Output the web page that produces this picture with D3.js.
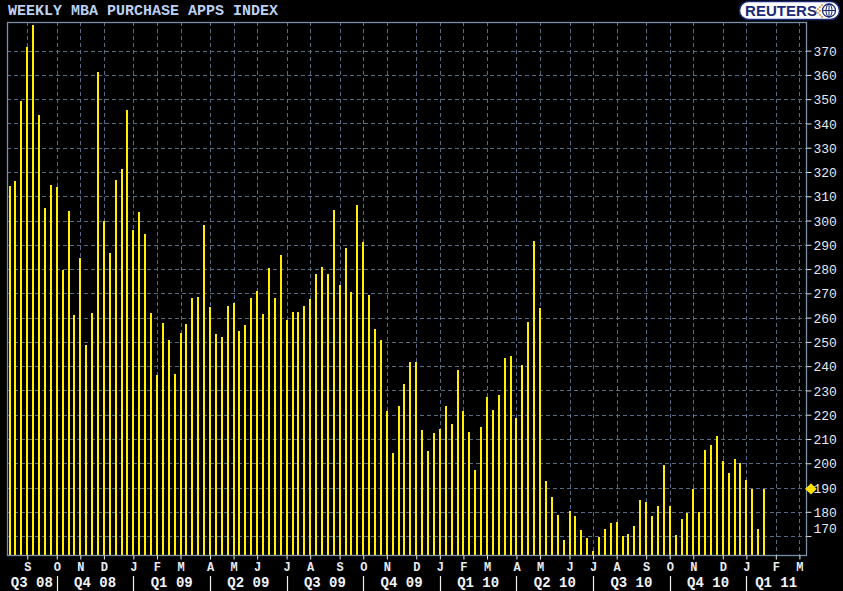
<!DOCTYPE html>
<html><head><meta charset="utf-8">
<script src="https://cdn.jsdelivr.net/npm/d3@7/dist/d3.min.js"></script>
<style>html,body{margin:0;padding:0;background:#000;overflow:hidden}</style>
</head><body>
<svg id="chart" width="843" height="591"></svg>
<script>
const title = "WEEKLY MBA PURCHASE APPS INDEX";
const firstWeek = [2008, 7, 11];   // Monday 11 Aug 2008 (first weekly bar)
const values = [
  314.2, 316.3, 349.3, 371.5, 380.6, 343.5, 305.2, 314.6, 313.8, 279.6,
  304.0, 261.1, 284.7, 248.7, 261.9, 361.2, 299.9, 286.6, 316.7, 321.2,
  345.5, 296.1, 303.5, 294.5, 261.9, 236.4, 257.8, 250.6, 236.8, 253.7,
  257.4, 268.1, 268.5, 298.2, 264.4, 253.2, 252.0, 264.8, 266.0, 254.5,
  257.0, 268.1, 271.0, 261.5, 280.4, 268.1, 285.8, 259.0, 262.3, 262.3,
  264.8, 267.7, 278.0, 280.9, 278.0, 304.3, 273.4, 288.7, 270.6, 306.4,
  291.2, 269.3, 255.3, 250.8, 221.5, 204.1, 223.6, 232.6, 241.7, 241.7,
  213.7, 205.0, 212.4, 214.1, 223.6, 216.2, 238.4, 221.5, 212.9, 197.2,
  214.9, 227.3, 221.9, 228.1, 243.4, 244.2, 218.6, 240.5, 258.2, 291.6,
  264.0, 192.7, 186.1, 178.7, 168.4, 180.3, 178.2, 172.5, 169.2, 164.0,
  169.6, 172.9, 175.4, 175.8, 170.0, 170.8, 174.1, 184.8, 184.0, 178.2,
  182.4, 199.3, 182.4, 170.4, 177.0, 179.5, 189.4, 179.9, 205.4, 207.5,
  211.2, 200.9, 196.0, 201.7, 200.1, 193.1, 189.4, 172.9, 189.4
];
const yTicks = [170,180,190,200,210,220,230,240,250,260,270,280,290,300,310,320,330,340,350,360,370];
const monthLetters = ["S","O","N","D","J","F","M","A","M","J","J","A","S","O","N","D",
                      "J","F","M","A","M","J","J","A","S","O","N","D","J","F","M"];
const quarterLabels = ["Q3 08","Q4 08","Q1 09","Q2 09","Q3 09","Q4 09","Q1 10","Q2 10","Q3 10","Q4 10","Q1 11"];
const axisMonths = [[2008, 8], [2011, 2]]; // Sep 2008 .. Mar 2011

const W = 843, H = 591;
const frame = {l: 7, t: 22, r: 806, b: 555};
const svg = d3.select("#chart");
svg.append("rect").attr("width", W).attr("height", H).attr("fill", "#000");

const x = d3.scaleLinear().domain([-0.44, 135.12]).range([frame.l, frame.r]);
const y = d3.scaleLinear().domain([162.2, 381.8]).range([frame.b, frame.t]);

const start = new Date(firstWeek[0], firstWeek[1], firstWeek[2]);
const months = d3.timeMonth.range(new Date(axisMonths[0][0], axisMonths[0][1], 1),
                                  new Date(axisMonths[1][0], axisMonths[1][1], 2));
const monthTicks = months.map((m, k) => {
  const mon = d3.timeMonday.ceil(m);
  return {date: m, idx: d3.timeMonday.count(start, mon), label: monthLetters[k]};
});

const gridCol = "#566b84";
// horizontal grid
svg.append("g").selectAll("line").data(yTicks).join("line")
  .attr("x1", frame.l).attr("x2", frame.r)
  .attr("y1", d => Math.round(y(d)) + 0.5).attr("y2", d => Math.round(y(d)) + 0.5)
  .attr("stroke", gridCol).attr("stroke-width", 1).attr("stroke-dasharray", "4,3");
// vertical grid
svg.append("g").selectAll("line").data(monthTicks).join("line")
  .attr("x1", d => Math.round(x(d.idx)) + 0.5).attr("x2", d => Math.round(x(d.idx)) + 0.5)
  .attr("y1", frame.t).attr("y2", frame.b)
  .attr("stroke", gridCol).attr("stroke-width", 1).attr("stroke-dasharray", "4,3");

// bars
svg.append("g").attr("shape-rendering", "crispEdges").selectAll("rect").data(values).join("rect")
  .attr("x", (d, i) => Math.round(x(i) - 1)).attr("width", 2)
  .attr("y", d => Math.round(y(d))).attr("height", d => frame.b - Math.round(y(d)))
  .attr("fill", "#ffee00");

// frame
svg.append("rect").attr("x", frame.l + 0.5).attr("y", frame.t + 0.5)
  .attr("width", frame.r - frame.l).attr("height", frame.b - frame.t)
  .attr("fill", "none").attr("stroke", "#7a8ea6").attr("stroke-width", 1.3);

// right axis
const yAxis = d3.axisRight(y).tickValues(yTicks).tickSize(5).tickPadding(2).tickFormat(d3.format("d"));
const ya = svg.append("g").attr("transform", `translate(${frame.r + 0.5},0)`).call(yAxis);
ya.select(".domain").remove();
ya.selectAll(".tick line").attr("stroke", "#d8dde6");
ya.selectAll(".tick text").attr("fill", "#e6e9ee")
  .attr("font-family", "'Liberation Mono', monospace").attr("font-size", 13)
  .attr("dy", d => d === 170 ? "-0.3em" : "0.35em");

// last value marker
const lastV = values[values.length - 1];
svg.append("path")
  .attr("d", d3.symbol(d3.symbolDiamond, 45)())
  .attr("transform", `translate(${frame.r + 5},${y(lastV)}) scale(1.6,0.9)`)
  .attr("fill", "#ffe000");

// bottom axis: month ticks
const xAxis = d3.axisBottom(x).tickValues(monthTicks.map(d => d.idx)).tickSize(4).tickPadding(3)
  .tickFormat((d, k) => monthTicks[k].label);
const xa = svg.append("g").attr("transform", `translate(0,${frame.b + 0.5})`).call(xAxis);
xa.select(".domain").remove();
xa.selectAll(".tick line").attr("stroke", "#e8ecf2");
xa.selectAll(".tick text").attr("fill", "#e8ecf4")
  .attr("font-family", "'Liberation Mono', monospace").attr("font-size", 12).attr("font-weight", "bold");

// quarters
const qBounds = [frame.l]
  .concat(monthTicks.filter(d => d.date.getMonth() % 3 === 0).map(d => x(d.idx)))
  .concat([frame.r]);
const inner = qBounds.slice(1, -1);
svg.append("g").selectAll("line").data(inner).join("line")
  .attr("x1", d => Math.round(d) + 0.5).attr("x2", d => Math.round(d) + 0.5)
  .attr("y1", 576).attr("y2", 591).attr("stroke", "#f0f0f0").attr("stroke-width", 1.2);
svg.append("g").selectAll("text").data(quarterLabels).join("text")
  .attr("x", (d, k) => (qBounds[k] + qBounds[k + 1]) / 2).attr("y", 587)
  .attr("text-anchor", "middle").attr("fill", "#f2f4f8")
  .attr("font-family", "'Liberation Mono', monospace").attr("font-size", 14).attr("font-weight", "bold")
  .text(d => d);

// title
svg.append("text").attr("x", 8).attr("y", 15)
  .attr("fill", "#bcd0f2").attr("font-family", "'Liberation Mono', monospace")
  .attr("font-size", 15).attr("font-weight", "bold").text(title);

// Reuters logo
const logo = svg.append("g");
logo.append("rect").attr("x", 739.5).attr("y", 1.5).attr("width", 100).attr("height", 18).attr("rx", 9)
  .attr("fill", "#fff").attr("stroke", "#1b2a78").attr("stroke-width", 1.5);
logo.append("text").attr("x", 745).attr("y", 16).attr("fill", "#1b2a78")
  .attr("font-family", "'Liberation Sans', Arial, sans-serif").attr("font-weight", "bold")
  .attr("font-size", 15).attr("textLength", 72).text("REUTERS");
logo.append("circle").attr("cx", 829).attr("cy", 10.5).attr("r", 6.5)
  .attr("fill", "#fff").attr("stroke", "#1b2a78").attr("stroke-width", 1.3);
logo.append("line").attr("x1", 829).attr("x2", 829).attr("y1", 4).attr("y2", 17).attr("stroke", "#1b2a78");
logo.append("line").attr("x1", 822.5).attr("x2", 835.5).attr("y1", 10.5).attr("y2", 10.5).attr("stroke", "#1b2a78");
logo.append("ellipse").attr("cx", 829).attr("cy", 10.5).attr("rx", 3).attr("ry", 6.5)
  .attr("fill", "none").attr("stroke", "#1b2a78");
const dots = [[820,7],[820,11],[820,15],[818,9],[818,13],[822,5],[822,17],[816,11]];
logo.append("g").selectAll("circle").data(dots).join("circle")
  .attr("cx", d => d[0]).attr("cy", d => d[1]).attr("r", 0.9).attr("fill", "#f08020");
</script>
</body></html>
